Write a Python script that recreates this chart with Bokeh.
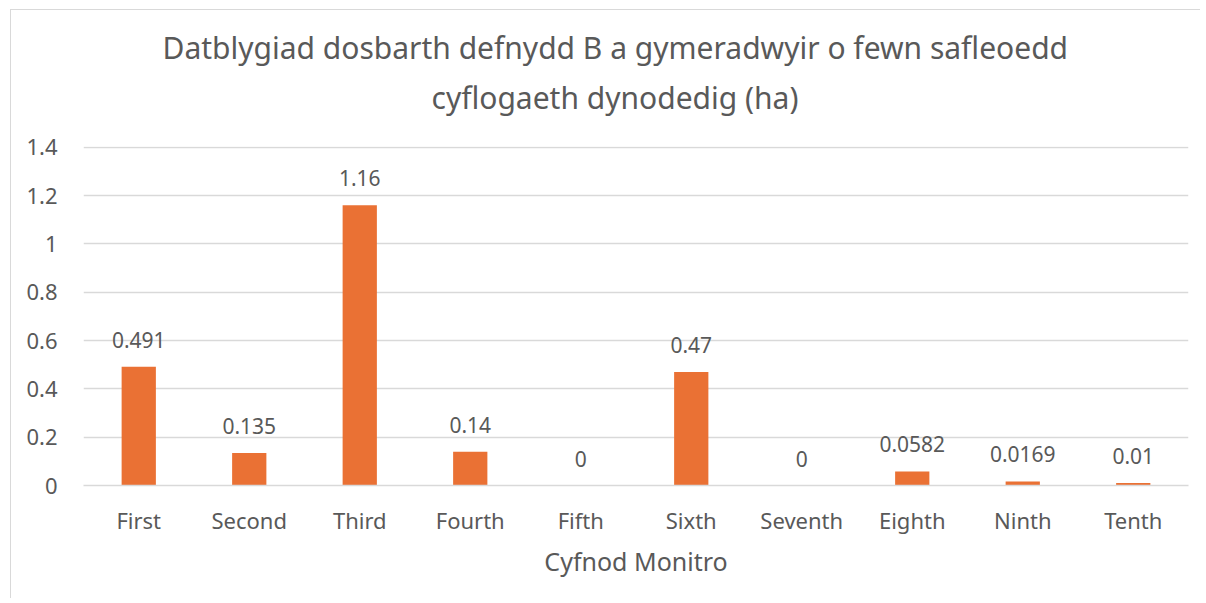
from bokeh.plotting import figure
from bokeh.models import ColumnDataSource, LabelSet, Title, FixedTicker
from bokeh.core.properties import value
from bokeh.embed import file_html
from bokeh.resources import INLINE

categories = ["First", "Second", "Third", "Fourth", "Fifth", "Sixth", "Seventh", "Eighth", "Ninth", "Tenth"]
values = [0.491, 0.135, 1.16, 0.14, 0, 0.47, 0, 0.0582, 0.0169, 0.01]
labels = ["0.491", "0.135", "1.16", "0.14", "0", "0.47", "0", "0.0582", "0.0169", "0.01"]
y_ticks = [0, 0.2, 0.4, 0.6, 0.8, 1.0, 1.2, 1.4]
title_lines = ["Datblygiad dosbarth defnydd B a gymeradwyir o fewn safleoedd",
               "cyflogaeth dynodedig (ha)"]

FONT = "Noto Sans"
TXT = "#595959"
GRID = "#d9d9d9"

src = ColumnDataSource(dict(cat=categories, val=values, lab=labels))

p = figure(width=1200, height=598, x_range=categories, y_range=(0, 1.403),
           output_backend="svg", toolbar_location=None,
           min_border_left=83, min_border_right=12, min_border_bottom=113, min_border_top=146)
p.title = None
p.add_layout(Title(text=title_lines[1], align="left", text_font=FONT, text_font_size="30px",
                   text_color=TXT, text_font_style="normal", standoff=58, offset=348), "above")
p.add_layout(Title(text=title_lines[0], align="left", text_font=FONT, text_font_size="30px",
                   text_color=TXT, text_font_style="normal", standoff=-45, offset=79), "above")

p.vbar(x="cat", top="val", width=0.31, source=src, color="#EA7134", line_color=None)

p.add_layout(LabelSet(x="cat", y="val", text="lab", source=src, text_align="center",
                      text_baseline="bottom", y_offset=19, text_font=value(FONT),
                      text_font_size="21px", text_color=TXT))

p.outline_line_color = None
p.xgrid.grid_line_color = None
p.ygrid.grid_line_color = GRID
p.ygrid.grid_line_width = 1.3
p.yaxis.ticker = FixedTicker(ticks=y_ticks)
p.yaxis.major_label_overrides = {0: "0", 1.0: "1"}

for ax in (p.xaxis, p.yaxis):
    ax.major_tick_line_color = None
    ax.minor_tick_line_color = None
    ax.major_label_text_font = FONT
    ax.major_label_text_font_size = "22px"
    ax.major_label_text_color = TXT

p.yaxis.axis_line_color = None
p.yaxis.major_label_standoff = 20
p.xaxis.axis_line_color = GRID
p.xaxis.axis_line_width = 1.3
p.xaxis.major_label_standoff = 13
p.xaxis.axis_label = "Cyfnod Monitro"
p.xaxis.axis_label_text_font = FONT
p.xaxis.axis_label_text_font_size = "25px"
p.xaxis.axis_label_text_font_style = "normal"
p.xaxis.axis_label_text_color = TXT
p.xaxis.axis_label_standoff = 6

p.border_fill_color = None
p.background_fill_color = None
p.styles = {"box-shadow": "inset 10px 9px 0 #ffffff, inset 11px 10px 0 #d9d9d9"}

open("out.html", "w").write(file_html(p, INLINE))
